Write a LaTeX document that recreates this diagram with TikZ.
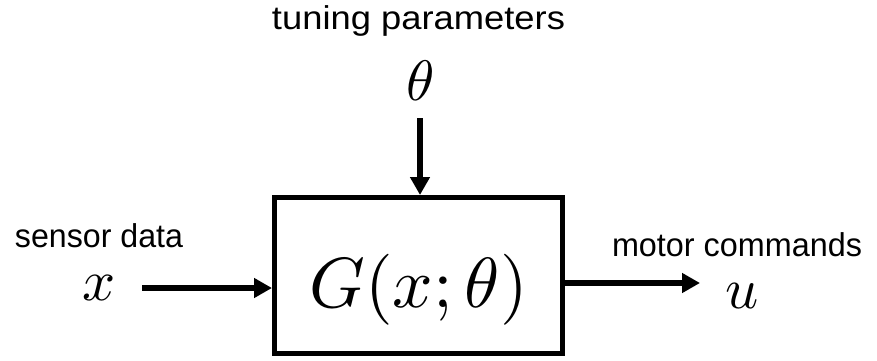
\documentclass[tikz,border=0pt]{standalone}
\usepackage[no-math]{fontspec}
\usepackage{graphicx}
\newfontfamily\labfont{Liberation Sans}
\usetikzlibrary{arrows.meta}
\tikzset{
  blk/.style={draw=black, line width=5pt, minimum width=288pt, minimum height=156pt, inner sep=0pt},
  arr/.style={line width=5.5pt, -{Triangle[length=18pt,width=19pt]}},
  lab/.style={inner sep=0pt, anchor=base, font=\labfont\fontsize{33}{39}\selectfont},
  mth/.style={inner sep=0pt, anchor=base}
}
\begin{document}
\begin{tikzpicture}[x=1pt,y=1pt]
\useasboundingbox (0,0) rectangle (877,360);
\node[blk] (box) at (418.5,84.5) {};
\node[mth] (form) at (418.5,53) {\scalebox{7.1}{$G(x;\theta)$}};
\node[lab] (tuning) at (418.5,331) {\resizebox{293pt}{\height}{tuning parameters}};
\node[mth] (theta) at (421,260) {\scalebox{5.7}{$\theta$}};
\node[lab] (sensor) at (99,113) {\resizebox{168pt}{\height}{sensor data}};
\node[mth] (xin) at (99,60) {\scalebox{5.8}{$x$}};
\node[lab] (motor) at (737,104) {\resizebox{250pt}{\height}{motor commands}};
\node[mth] (uout) at (742,52) {\scalebox{5.8}{$u$}};
\coordinate (ta) at (420,242);
\coordinate (xa) at (142,72);
\coordinate (ua) at (700,77);
\draw[arr] (ta) -- (ta |- box.north);
\draw[arr] (xa) -- (xa -| box.west);
\draw[arr] (ua -| box.east) -- (ua);
\end{tikzpicture}
\end{document}
